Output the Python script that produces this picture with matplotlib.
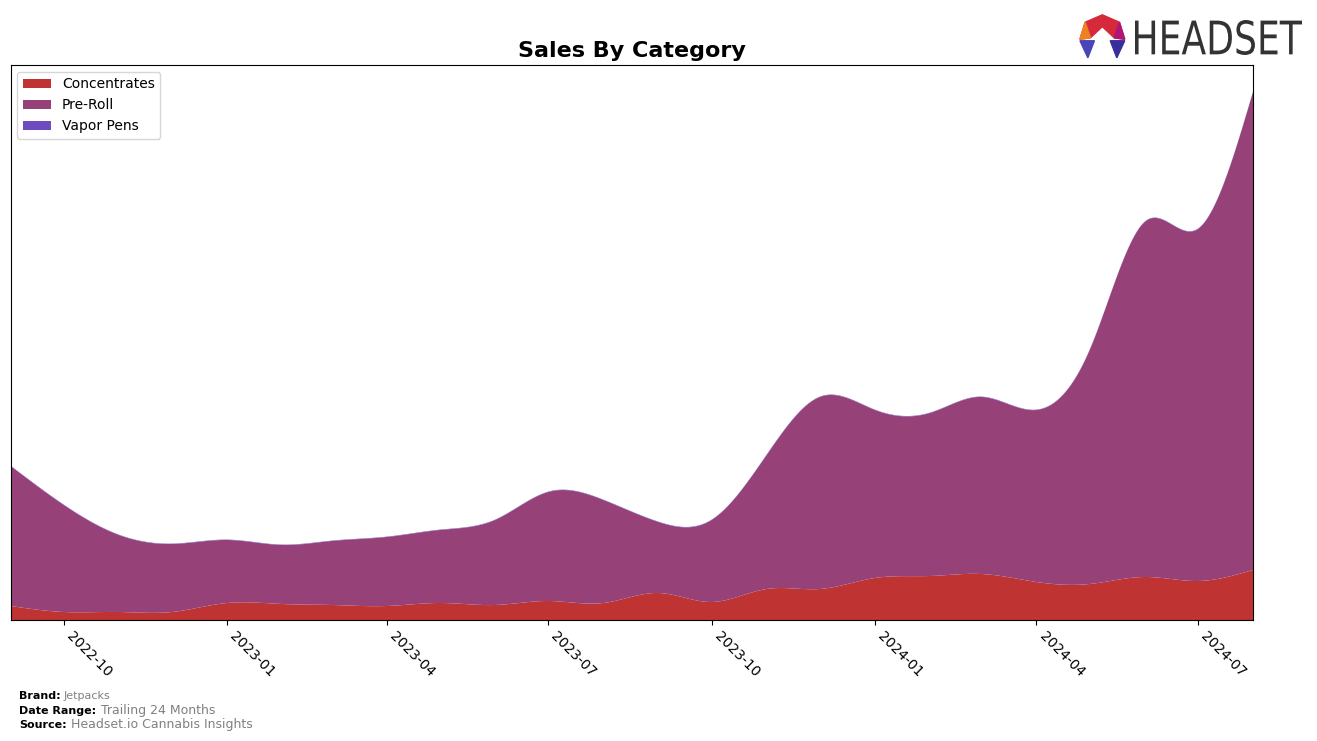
import matplotlib
matplotlib.use('Agg')
import matplotlib.pyplot as plt
import matplotlib.dates as mdates
from matplotlib.patches import Polygon, PathPatch
from matplotlib.textpath import TextPath
from matplotlib.font_manager import FontProperties
from matplotlib.transforms import Affine2D
import numpy as np
import pandas as pd

## Data (monthly, arbitrary units)
months = pd.date_range('2022-09-01', '2024-08-01', freq='MS')
concentrates = [14, 8, 8, 8, 17, 16, 15, 14, 17, 15, 19, 17, 27, 18, 31, 31, 42, 44, 46, 38, 36, 43, 39, 50]
pre_roll = [140, 107, 77, 68, 63, 59, 64, 69, 73, 85, 109, 103, 71, 82, 134, 192, 168, 163, 177, 172, 234, 355, 352, 478]
vapor_pens = [0.4] * 24

colors = ['#c03333', '#964177', '#6e4bbf']
labels = ['Concentrates', 'Pre-Roll', 'Vapor Pens']


def natural_spline(x, y, xs):
    """Natural cubic spline through (x, y), evaluated at xs."""
    x = np.asarray(x, float)
    y = np.asarray(y, float)
    n = len(x)
    h = np.diff(x)
    A = np.zeros((n, n))
    b = np.zeros(n)
    A[0, 0] = A[-1, -1] = 1
    for i in range(1, n - 1):
        A[i, i - 1] = h[i - 1]
        A[i, i] = 2 * (h[i - 1] + h[i])
        A[i, i + 1] = h[i]
        b[i] = 3 * ((y[i + 1] - y[i]) / h[i] - (y[i] - y[i - 1]) / h[i - 1])
    c = np.linalg.solve(A, b)
    idx = np.clip(np.searchsorted(x, xs) - 1, 0, n - 2)
    dx = xs - x[idx]
    hb = h[idx]
    bb = (y[idx + 1] - y[idx]) / hb - hb * (2 * c[idx] + c[idx + 1]) / 3
    d = (c[idx + 1] - c[idx]) / (3 * hb)
    return y[idx] + bb * dx + c[idx] * dx ** 2 + d * dx ** 3


x_num = mdates.date2num(months)
xs = np.linspace(x_num[0], x_num[-1], 800)
series = [natural_spline(x_num, s, xs) for s in (concentrates, pre_roll, vapor_pens)]
series = [np.clip(s, 0, None) for s in series]

fig = plt.figure(figsize=(13.17, 7.41), dpi=100)
ax = fig.add_axes([0.008, 0.1633, 0.9434, 0.749])

ax.stackplot(xs, *series, colors=colors, labels=labels)
ax.set_xlim(x_num[0], x_num[-1])
ax.set_ylim(0, 555)
ax.set_yticks([])

ax.xaxis.set_major_locator(mdates.MonthLocator(bymonth=[1, 4, 7, 10]))
ax.xaxis.set_major_formatter(mdates.DateFormatter('%Y-%m'))
plt.setp(ax.get_xticklabels(), rotation=-45, ha='left', fontsize=10)

ax.set_title('Sales By Category', fontsize=16, fontweight='bold', pad=6)
ax.legend(loc='upper left', fontsize=10)

## Footer
fig.text(0.0144, 0.057, 'Brand:', fontsize=8, fontweight='bold')
fig.text(0.048, 0.057, 'Jetpacks', fontsize=8, color='gray')
fig.text(0.0144, 0.037, 'Date Range:', fontsize=8, fontweight='bold')
fig.text(0.077, 0.037, 'Trailing 24 Months', fontsize=9, color='gray')
fig.text(0.0144, 0.017, 'Source:', fontsize=8, fontweight='bold')
fig.text(0.054, 0.017, 'Headset.io Cannabis Insights', fontsize=9, color='gray')

## Logo: condensed "HEADSET" fitted into its box (display pixels)
tp = TextPath((0, 0), 'HEADSET', size=50, prop=FontProperties(family='DejaVu Sans'))
ext = tp.get_extents()
box_x0, box_x1, box_y0, box_y1 = 1135, 1302, 686, 721
sx = (box_x1 - box_x0) / ext.width
sy = (box_y1 - box_y0) / ext.height
tr = Affine2D().translate(-ext.x0, -ext.y0).scale(sx, sy).translate(box_x0, box_y0)
logo_text = PathPatch(tp, transform=tr, color='#333333', lw=0)
fig.patches.append(logo_text)

lx, ly = 0.837, 0.952
hexagon = [(lx - 0.013, ly + 0.018), (lx, ly + 0.028), (lx + 0.013, ly + 0.018),
           (lx + 0.017, ly - 0.005), (lx + 0.009, ly - 0.003), (lx, ly + 0.012),
           (lx - 0.009, ly - 0.003), (lx - 0.017, ly - 0.005)]
fig.patches.append(Polygon(hexagon, closed=True, transform=fig.transFigure, color='#d42a3c'))
fig.patches.append(Polygon([(lx - 0.017, ly - 0.005), (lx - 0.009, ly - 0.003), (lx - 0.013, ly + 0.018)],
                           closed=True, transform=fig.transFigure, color='#f08020'))
fig.patches.append(Polygon([(lx + 0.017, ly - 0.005), (lx + 0.009, ly - 0.003), (lx + 0.013, ly + 0.018)],
                           closed=True, transform=fig.transFigure, color='#b0157a'))
fig.patches.append(Polygon([(lx - 0.017, ly - 0.007), (lx - 0.006, ly - 0.007), (lx - 0.011, ly - 0.030)],
                           closed=True, transform=fig.transFigure, color='#4a45b8'))
fig.patches.append(Polygon([(lx + 0.017, ly - 0.007), (lx + 0.006, ly - 0.007), (lx + 0.011, ly - 0.030)],
                           closed=True, transform=fig.transFigure, color='#3a2f9a'))

fig.savefig('out.png', dpi=100)
